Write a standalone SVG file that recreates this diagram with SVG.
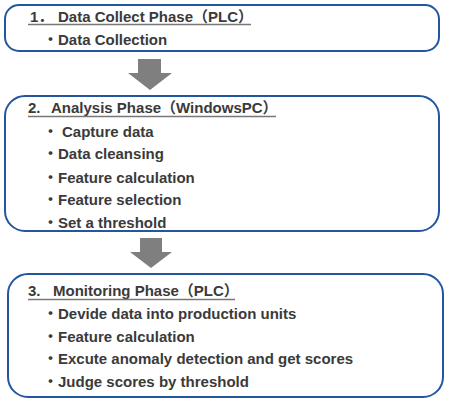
<svg xmlns="http://www.w3.org/2000/svg" width="450" height="402" viewBox="0 0 450 402">
<style>
.box{fill:#fff;stroke:#2456a0;stroke-width:2}
.t{font-family:"Liberation Sans","Noto Sans CJK JP",Arial,sans-serif;font-size:15px;font-weight:bold;fill:#3a3a3a}
.ul{stroke:#777;stroke-width:1.5}
.arr{fill:#7f7f7f}
</style>
<rect width="450" height="402" fill="#fff"/>
<g id="connectors">
<polygon class="arr" points="138,59 161,59 161,73 172,73 150,90 128,73 138,73"/>
<polygon class="arr" points="140,238 162,238 162,252 172,252 151,268 130,252 140,252"/>
</g>
<g id="phase1">
<rect class="box" x="5" y="5" width="434" height="46" rx="14"/>
<text class="t" x="30" y="22">1．<tspan x="58">Data Collect Phase（PLC）</tspan></text>
<line class="ul" x1="28" y1="24.5" x2="251" y2="24.5"/>
<text class="t" x="43" y="45">・<tspan x="58">Data Collection</tspan></text>
</g>
<g id="phase2">
<rect class="box" x="5" y="96" width="434" height="135" rx="20"/>
<text class="t" x="28" y="113">2.<tspan x="51">Analysis Phase（WindowsPC）</tspan></text>
<line class="ul" x1="28" y1="116.5" x2="276" y2="116.5"/>
<text class="t" x="43" y="137">・<tspan x="62">Capture data</tspan></text>
<text class="t" x="43" y="159">・<tspan x="58">Data cleansing</tspan></text>
<text class="t" x="43" y="183">・<tspan x="58">Feature calculation</tspan></text>
<text class="t" x="43" y="205">・<tspan x="58">Feature selection</tspan></text>
<text class="t" x="43" y="228">・<tspan x="58">Set a threshold</tspan></text>
</g>
<g id="phase3">
<rect class="box" x="8" y="274" width="435" height="123" rx="20"/>
<text class="t" x="28" y="296">3.<tspan x="53">Monitoring Phase（PLC）</tspan></text>
<line class="ul" x1="28" y1="299.5" x2="235" y2="299.5"/>
<text class="t" x="43" y="319">・<tspan x="58">Devide data into production units</tspan></text>
<text class="t" x="43" y="342">・<tspan x="58">Feature calculation</tspan></text>
<text class="t" x="43" y="364">・<tspan x="58">Excute anomaly detection and get scores</tspan></text>
<text class="t" x="43" y="387">・<tspan x="58">Judge scores by threshold</tspan></text>
</g>
</svg>
